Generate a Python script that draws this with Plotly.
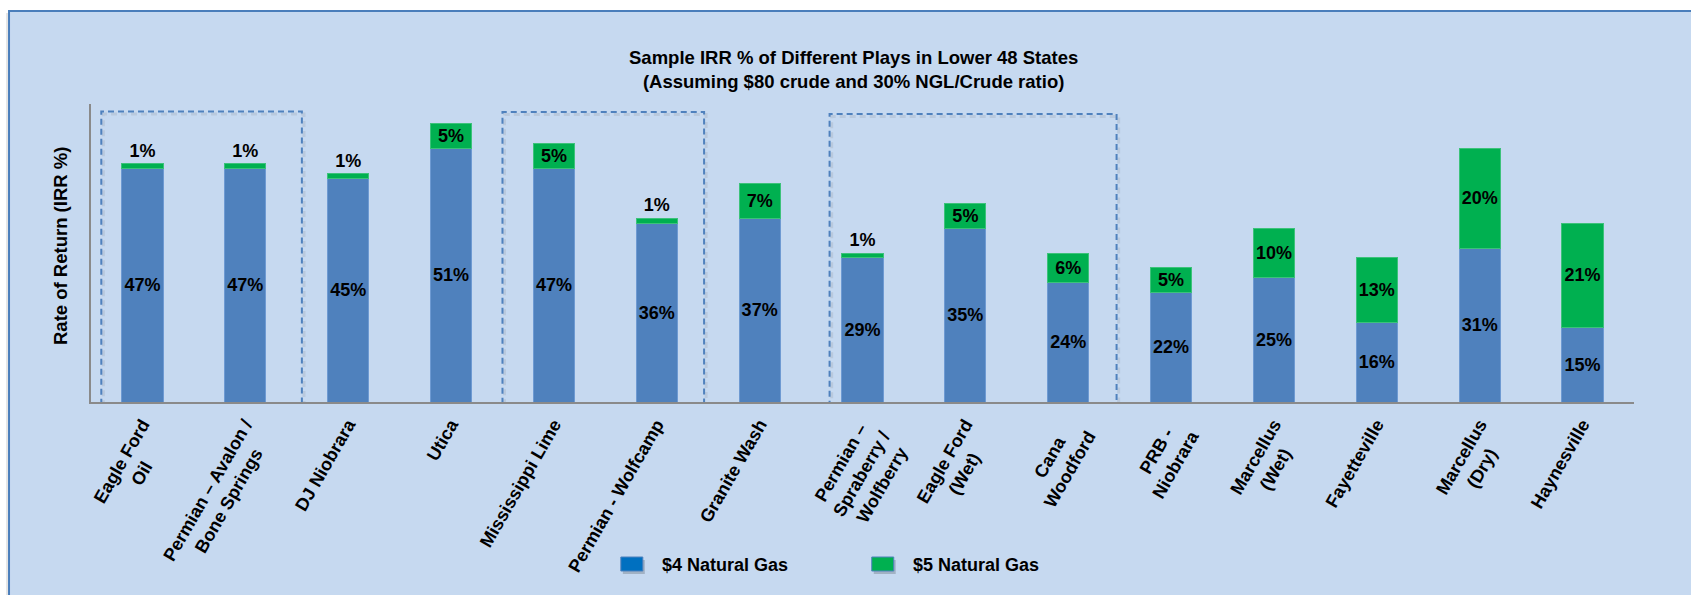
import plotly.graph_objects as go

# ---------------- data ----------------
plays = ["Eagle Ford<br>Oil", "Permian – Avalon /<br>Bone Springs", "DJ Niobrara", "Utica",
         "Mississippi Lime", "Permian - Wolfcamp", "Granite Wash",
         "Permian –<br>Spraberry /<br>Wolfberry", "Eagle Ford<br>(Wet)", "Cana<br>Woodford",
         "PRB -<br>Niobrara", "Marcellus<br>(Wet)", "Fayetteville", "Marcellus<br>(Dry)", "Haynesville"]
irr_4 = [47, 47, 45, 51, 47, 36, 37, 29, 35, 24, 22, 25, 16, 31, 15]
irr_5_extra = [1, 1, 1, 5, 5, 1, 7, 1, 5, 6, 5, 10, 13, 20, 21]
series_names = ["$4 Natural Gas", "$5 Natural Gas"]
title_lines = ["Sample IRR % of Different Plays in Lower 48 States",
               "(Assuming $80 crude and 30% NGL/Crude ratio)"]
y_title = "Rate of Return (IRR %)"

# ---------------- layout constants ----------------
W, H = 1691, 595
L, R, T, B = 91, 1634.5, 104, 402
FONT = "Liberation Sans, Arial, sans-serif"
BLUE = "#4F81BD"
GREEN = "#00B050"
LEG_BLUE = "#0070C0"
PANEL = "#C6D9F0"

# Arial/Liberation Sans Bold advance widths (1/1000 em) used to centre multi-line tick labels
_AW = {" ": 278, "\u00a0": 278, "(": 333, ")": 333, "-": 333, "–": 556, "/": 278,
       "A": 722, "B": 722, "C": 722, "D": 722, "E": 667, "F": 611, "G": 778, "H": 722,
       "I": 278, "J": 556, "L": 611, "M": 833, "N": 722, "O": 778, "P": 667, "R": 722,
       "S": 667, "U": 722, "W": 944,
       "a": 556, "b": 611, "c": 556, "d": 611, "e": 556, "f": 333, "g": 611, "h": 611,
       "i": 278, "k": 556, "l": 278, "m": 889, "n": 611, "o": 611, "p": 611, "r": 389,
       "s": 556, "t": 333, "u": 611, "v": 556, "w": 778, "y": 556}


def _w(s):
    return sum(_AW.get(c, 556) for c in s)


def centre_lines(label):
    lines = label.split("<br>")
    if len(lines) == 1:
        return label
    mw = max(_w(s) for s in lines)
    out = []
    for s in lines:
        n = int(round((mw - _w(s)) / 2 / 278))
        out.append(s + "\u00a0" * n)
    return "<br>".join(out)


def px(x):
    return (x - L) / (R - L)


def py(y):
    return (B - y) / (B - T)


x_idx = list(range(len(plays)))
tick_text = [centre_lines(p) for p in plays]

fig = go.Figure()
fig.add_trace(go.Bar(
    x=x_idx, y=irr_4, name=series_names[0], width=0.4,
    marker=dict(color=BLUE, line=dict(color="#6E9AD2", width=1)),
    text=[f"{v}%" for v in irr_4], textposition="inside", insidetextanchor="middle",
    constraintext="none", textangle=0,
    textfont=dict(family=FONT, size=18, color="black", weight="bold"),
    showlegend=False, hoverinfo="skip"))
fig.add_trace(go.Bar(
    x=x_idx, y=irr_5_extra, name=series_names[1], width=0.4,
    marker=dict(color=GREEN, line=dict(color="#3CC27A", width=1)),
    text=[f"{v}%" for v in irr_5_extra],
    textposition=["outside" if v < 3 else "inside" for v in irr_5_extra],
    insidetextanchor="middle", constraintext="none", textangle=0, cliponaxis=False,
    textfont=dict(family=FONT, size=18, color="black", weight="bold"),
    showlegend=False, hoverinfo="skip"))

shapes = []
# panel background
shapes.append(dict(type="rect", xref="paper", yref="paper", layer="below",
                   x0=px(6), y0=py(13), x1=px(1720), y1=py(620),
                   fillcolor="rgba(0,0,0,0.10)", line=dict(width=0)))
shapes.append(dict(type="rect", xref="paper", yref="paper", layer="below",
                   x0=px(9), y0=py(11), x1=px(1720), y1=py(620),
                   fillcolor=PANEL, line=dict(color="#4A7EBB", width=2)))

# dashed group boxes (category index spans)
boxes = [(-0.40, 1.55, 58.5), (3.50, 5.46, 58.4), (6.68, 9.47, 58.0)]
for x0, x1, top in boxes:
    shapes.append(dict(type="rect", xref="x", yref="y", x0=x0 + 0.02, x1=x1 + 0.02,
                       y0=-0.9, y1=top - 0.5, layer="below",
                       line=dict(color="rgba(90,90,90,0.12)", width=3, dash="6px,4px")))
    shapes.append(dict(type="rect", xref="x", yref="y", x0=x0, x1=x1, y0=-0.2, y1=top,
                       line=dict(color=BLUE, width=2, dash="6px,4px")))

annotations = []
annotations.append(dict(xref="paper", yref="paper", x=px(854), y=py(69),
                        text="<br>".join(title_lines), showarrow=False,
                        font=dict(family=FONT, size=18.5, color="black", weight="bold"),
                        align="center", xanchor="center", yanchor="middle"))
annotations.append(dict(xref="paper", yref="paper", x=px(60), y=py(246),
                        text=y_title, textangle=-90, showarrow=False,
                        font=dict(family=FONT, size=18.5, color="black", weight="bold"),
                        xanchor="center", yanchor="middle"))

# manual legend
legend_items = [(621, LEG_BLUE), (872, GREEN)]
for (sx, col), name in zip(legend_items, series_names):
    shapes.append(dict(type="rect", xref="paper", yref="paper",
                       x0=px(sx + 2), x1=px(sx + 24), y0=py(560), y1=py(574),
                       fillcolor="rgba(0,0,0,0.18)", line=dict(width=0)))
    shapes.append(dict(type="rect", xref="paper", yref="paper",
                       x0=px(sx), x1=px(sx + 22), y0=py(557), y1=py(571),
                       fillcolor=col, line=dict(color="#4F81BD", width=1)))
    annotations.append(dict(xref="paper", yref="paper", x=px(sx + 39), y=py(565),
                            text=name, showarrow=False, xanchor="left", yanchor="middle",
                            font=dict(family=FONT, size=18, color="black", weight="bold")))

fig.update_layout(
    width=W, height=H,
    margin=dict(l=L, r=W - R, t=T, b=H - B, pad=0),
    paper_bgcolor="white", plot_bgcolor="rgba(0,0,0,0)",
    barmode="stack", bargap=0.6,
    shapes=shapes, annotations=annotations,
    font=dict(family=FONT, color="black"),
    xaxis=dict(range=[-0.5, 14.5], tickmode="array", tickvals=x_idx, ticktext=tick_text,
               tickangle=-60, tickfont=dict(family=FONT, size=18, color="black", weight="bold"),
               ticklabelstandoff=3,
               showline=True, linecolor="#8A8A8A", linewidth=2, ticks="", showgrid=False,
               zeroline=False, fixedrange=True),
    yaxis=dict(range=[0, 60], showline=True, linecolor="#8A8A8A", linewidth=2,
               showticklabels=False, ticks="", showgrid=False, zeroline=False, fixedrange=True),
    showlegend=False,
)

fig.write_html("out.html")
